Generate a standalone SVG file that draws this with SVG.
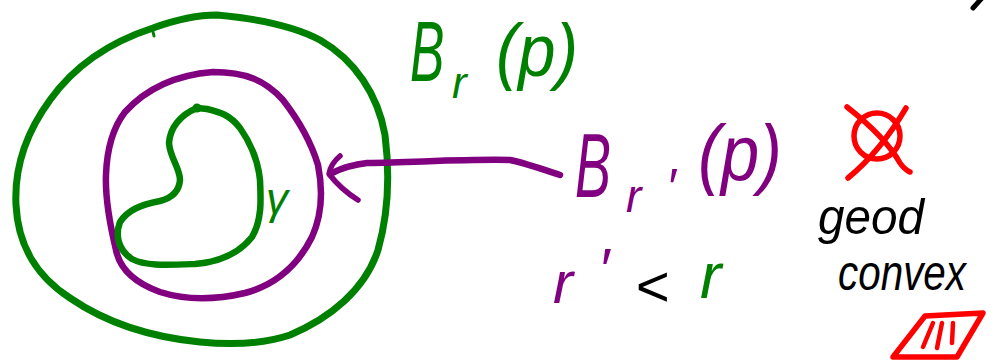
<svg xmlns="http://www.w3.org/2000/svg" width="998" height="362" viewBox="0 0 998 362">
<style>
.s{fill:none;stroke-linecap:round;stroke-linejoin:round}
.g{stroke:#008000}
.pu{stroke:#800080}
.rd{stroke:#ff0000}
.bk{stroke:#000}
.t{font-family:"Liberation Sans","DejaVu Sans",sans-serif;font-style:italic}
</style>
<rect width="998" height="362" fill="#fff"/>
<g id="ball-outer">
<path class="s g" stroke-width="7" d="M217,15 C250,18 290,24 320,40 C355,60 378,95 385,135 C390,175 388,215 378,250 C365,290 330,318 290,335 C260,345 230,345 200,342 C150,337 105,322 70,298 C35,275 18,245 16,205 C14,165 28,130 50,100 C75,65 110,42 153,28 C175,20 195,15 217,15 Z"/>
<path class="s g" stroke-width="3" d="M152,28 L154,36"/>
</g>
<g id="ball-inner">
<path class="s pu" stroke-width="6.5" d="M213,72 C245,72 265,80 283,100 C300,122 312,145 318,165 C323,190 322,215 312,237 C298,265 275,285 245,293 C215,300 185,300 160,292 C135,283 120,270 116,250 C110,225 105,200 106,175 C107,145 115,125 125,112 C145,90 175,75 213,72 Z"/>
</g>
<g id="gamma">
<path class="s g" stroke-width="6.5" d="M197,108 C180,115 170,128 169,143 C170,158 180,168 180,180 C179,192 172,198 160,201 C140,205 128,210 120,222 C115,235 118,250 132,259 C145,266 165,265 195,264 C220,262 240,252 252,237 C262,220 261,200 260,180 C258,160 252,145 240,128 C230,115 220,112 207,109 Z"/>
<circle cx="197" cy="108" r="4.5" fill="#008000"/>
<text class="t" x="266" y="214" font-size="44" fill="#008000">γ</text>
</g>
<g id="label-Br" fill="#008000">
<text class="t" transform="translate(410,81) scale(0.6,1)" font-size="86">B</text>
<text class="t" x="452" y="98" font-size="44">r</text>
<text class="t" x="496" y="76" font-size="74" textLength="82" lengthAdjust="spacingAndGlyphs">(p)</text>
</g>
<g id="label-Brprime" fill="#800080">
<text class="t" transform="translate(575,197) scale(0.6,1)" font-size="90">B</text>
<text class="t" x="626" y="212" font-size="46">r</text>
<text class="t" x="666" y="205" font-size="52">′</text>
<text class="t" x="698" y="180" font-size="78" textLength="84" lengthAdjust="spacingAndGlyphs">(p)</text>
</g>
<g id="label-ineq">
<text class="t" font-size="60"><tspan x="553" y="303" fill="#800080">r</tspan><tspan x="598" y="290" fill="#800080">′</tspan><tspan x="635" y="306" fill="#000" font-size="58">&lt;</tspan><tspan x="700" y="298" fill="#008000" font-size="64">r</tspan></text>
</g>
<g id="not-convex-mark">
<circle class="s rd" stroke-width="5.5" cx="877" cy="136" r="23"/>
<path class="s rd" stroke-width="5.5" d="M847,107 C870,125 890,145 900,163 C905,170 908,171 910,172"/>
<path class="s rd" stroke-width="5.5" d="M906,108 C890,135 870,160 848,178"/>
</g>
<g id="label-geod">
<text class="t" fill="#000" font-size="50"><tspan x="818" y="234" textLength="106" lengthAdjust="spacingAndGlyphs">geod</tspan><tspan x="838" y="290" textLength="128" lengthAdjust="spacingAndGlyphs">convex</tspan></text>
</g>
<g id="red-sign">
<path class="s rd" stroke-width="5.5" d="M925,316 L983,313 L957,357 L893,357 Z"/>
<path class="s rd" stroke-width="4.5" d="M933,323 L923,347 M942,323 L937,348 M953,323 L952,343"/>
</g>
<g id="corner-mark">
<path class="s bk" stroke-width="5" d="M982,-2 L973,8"/>
</g>
<g id="connectors">
<path class="s pu" stroke-width="6.5" d="M560,175 C545,170 525,163 510,160 C470,159 420,162 367,163 C350,165 340,169 332,173"/>
<path class="s pu" stroke-width="5.5" d="M340,156 C334,161 330,167 329,174 C336,183 345,192 358,200"/>
</g>
</svg>
